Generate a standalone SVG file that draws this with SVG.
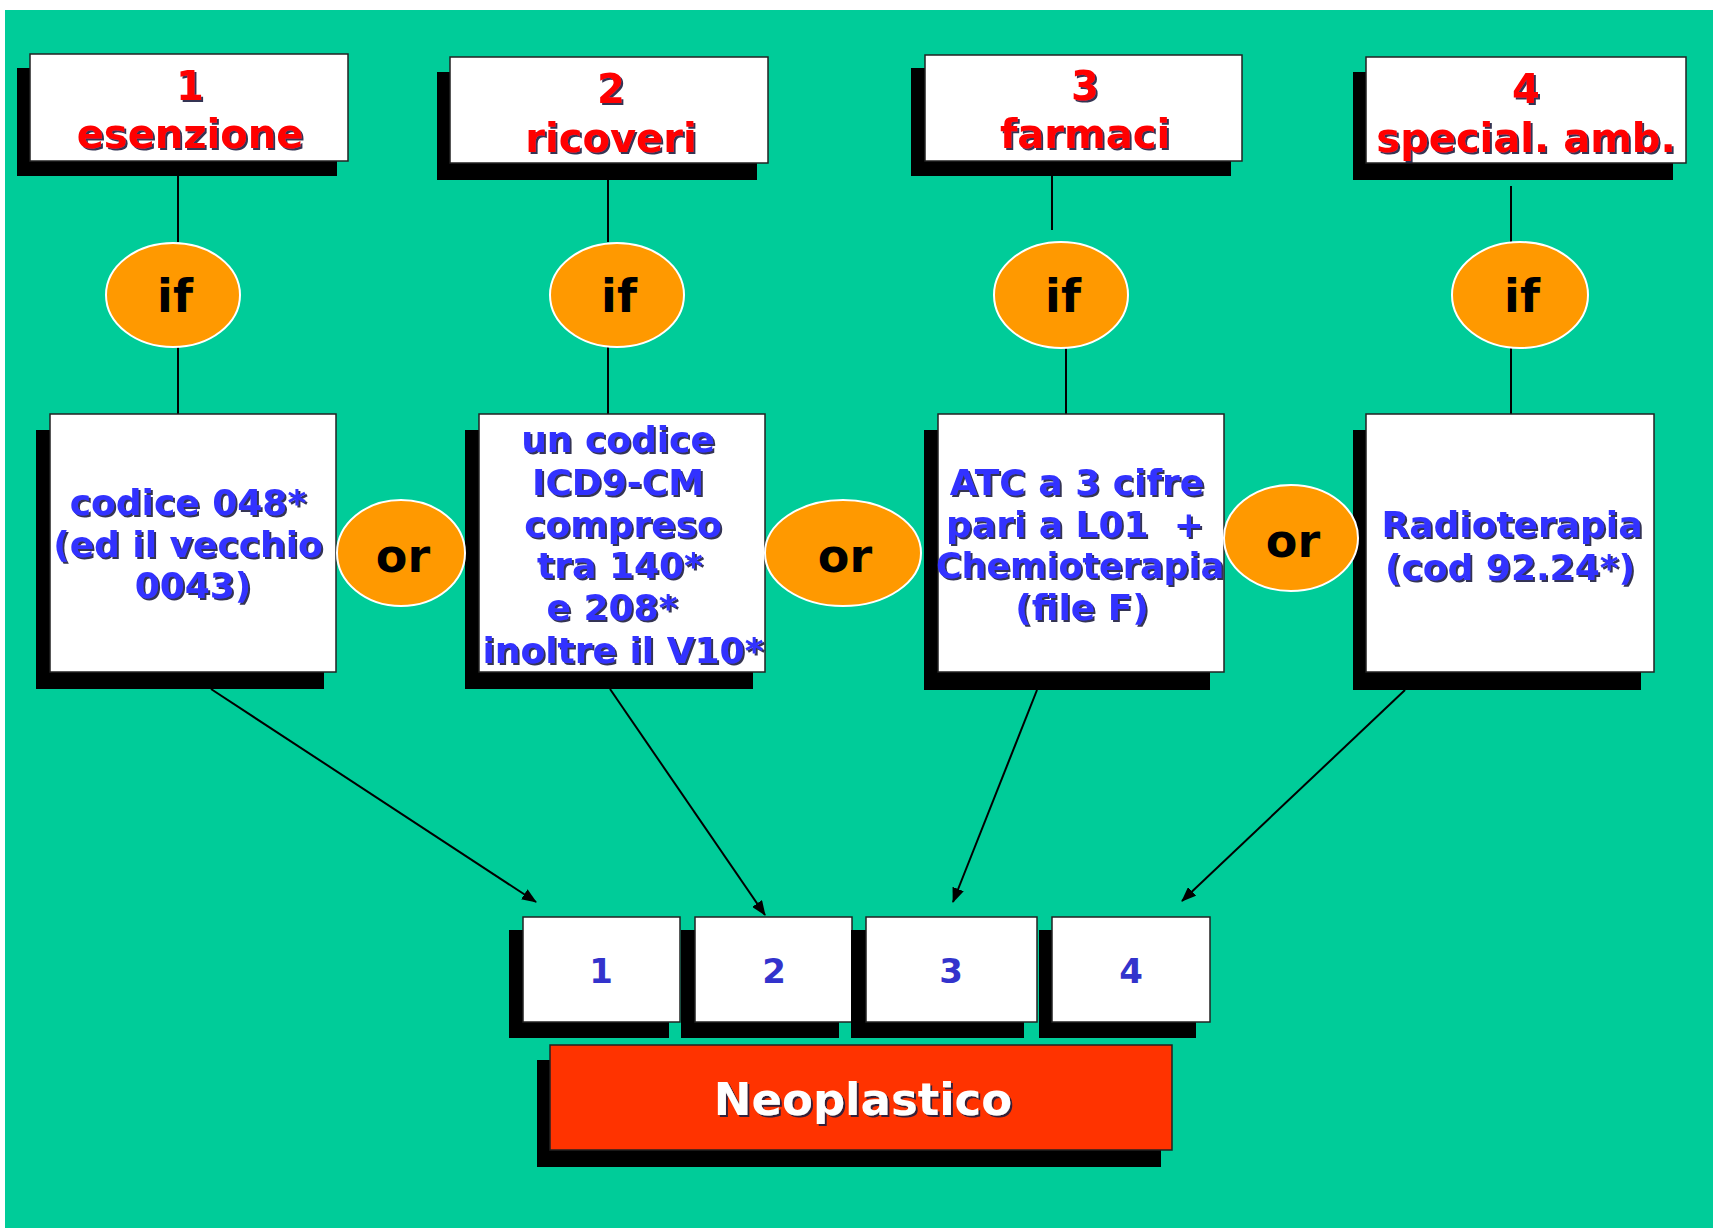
<svg xmlns="http://www.w3.org/2000/svg" width="1713" height="1228" viewBox="0 0 1713 1228">
  <defs>
    <filter id="ts" x="-10%" y="-20%" width="120%" height="140%">
      <feDropShadow dx="2" dy="2" stdDeviation="0.6" flood-color="#1a1a40" flood-opacity="0.9"/>
    </filter>
    <marker id="arr" viewBox="0 0 15 12" refX="14" refY="6" markerWidth="15" markerHeight="12" markerUnits="userSpaceOnUse" orient="auto">
      <path d="M0,0 L15,6 L0,12 z" fill="#000"/>
    </marker>
  </defs>
  <style>
    .shadow { fill: #000; }
    .box { fill: #fff; stroke: #222; stroke-width: 1.5; }
    .red { fill: #ff3300; stroke: #222; stroke-width: 1.5; }
    .oval { fill: #ff9900; stroke: #fff; stroke-width: 2; }
    .head { font-family: "DejaVu Sans", Verdana, sans-serif; font-weight: bold; font-size: 40px; fill: #ff0000; text-anchor: middle; filter: url(#ts); }
    .cond { font-family: "DejaVu Sans", Verdana, sans-serif; font-weight: bold; font-size: 36px; fill: #3333ff; text-anchor: middle; filter: url(#ts); }
    .num { font-family: "DejaVu Sans", Verdana, sans-serif; font-weight: bold; font-size: 34px; fill: #3333cc; text-anchor: middle; }
    .op { font-family: "DejaVu Sans", Verdana, sans-serif; font-weight: bold; font-size: 46px; fill: #000; text-anchor: middle; }
    .big { font-family: "DejaVu Sans", Verdana, sans-serif; font-weight: bold; font-size: 45px; fill: #fff; text-anchor: middle; filter: url(#ts); }
    .link { stroke: #000; stroke-width: 2; fill: none; }
    .arrow { stroke: #000; stroke-width: 2; fill: none; marker-end: url(#arr); }
  </style>

  <!-- slide background -->
  <rect x="5" y="10" width="1708" height="1218" fill="#00cc99"/>

  <!-- connectors -->
  <g id="connectors">
    <line class="link" x1="178" y1="176" x2="178" y2="242"/>
    <line class="link" x1="178" y1="346" x2="178" y2="414"/>
    <line class="link" x1="608" y1="180" x2="608" y2="242"/>
    <line class="link" x1="608" y1="346" x2="608" y2="414"/>
    <line class="link" x1="1052" y1="176" x2="1052" y2="230"/>
    <line class="link" x1="1066" y1="346" x2="1066" y2="414"/>
    <line class="link" x1="1511" y1="186" x2="1511" y2="242"/>
    <line class="link" x1="1511" y1="346" x2="1511" y2="414"/>
    <line class="arrow" x1="211" y1="689" x2="536" y2="902"/>
    <line class="arrow" x1="610" y1="689" x2="765" y2="915"/>
    <line class="arrow" x1="1037" y1="690" x2="953" y2="902"/>
    <line class="arrow" x1="1405" y1="690" x2="1182" y2="901"/>
  </g>

  <!-- source headers -->
  <g id="src1">
    <rect class="shadow" x="17" y="68" width="320" height="108"/>
    <rect class="box" x="30" y="54" width="318" height="107"/>
    <text class="head" x="190" y="100">1</text>
    <text class="head" x="190" y="148">esenzione</text>
  </g>
  <g id="src2">
    <rect class="shadow" x="437" y="72" width="320" height="108"/>
    <rect class="box" x="450" y="57" width="318" height="106"/>
    <text class="head" x="611" y="103">2</text>
    <text class="head" x="611" y="152">ricoveri</text>
  </g>
  <g id="src3">
    <rect class="shadow" x="911" y="68" width="320" height="108"/>
    <rect class="box" x="925" y="55" width="317" height="106"/>
    <text class="head" x="1085" y="100">3</text>
    <text class="head" x="1085" y="148">farmaci</text>
  </g>
  <g id="src4">
    <rect class="shadow" x="1353" y="72" width="320" height="108"/>
    <rect class="box" x="1366" y="57" width="320" height="106"/>
    <text class="head" x="1526" y="103">4</text>
    <text class="head" x="1526" y="152">special. amb.</text>
  </g>

  <!-- "if" gates -->
  <g id="if1"><ellipse class="oval" cx="173" cy="295" rx="67" ry="52"/><text class="op" x="175" y="312">if</text></g>
  <g id="if2"><ellipse class="oval" cx="617" cy="295" rx="67" ry="52"/><text class="op" x="619" y="312">if</text></g>
  <g id="if3"><ellipse class="oval" cx="1061" cy="295" rx="67" ry="53"/><text class="op" x="1063" y="312">if</text></g>
  <g id="if4"><ellipse class="oval" cx="1520" cy="295" rx="68" ry="53"/><text class="op" x="1522" y="312">if</text></g>

  <!-- conditions -->
  <g id="cond1">
    <rect class="shadow" x="36" y="430" width="288" height="259"/>
    <rect class="box" x="50" y="414" width="286" height="258"/>
    <text class="cond" x="188" y="515">codice 048*</text>
    <text class="cond" x="188" y="557">(ed il vecchio</text>
    <text class="cond" x="193" y="598">0043)</text>
  </g>
  <g id="cond2">
    <rect class="shadow" x="465" y="430" width="288" height="259"/>
    <rect class="box" x="479" y="414" width="286" height="258"/>
    <text class="cond" x="618" y="452">un codice</text>
    <text class="cond" x="618" y="495">ICD9-CM</text>
    <text class="cond" x="623" y="537">compreso</text>
    <text class="cond" x="620" y="578">tra 140*</text>
    <text class="cond" x="612" y="620">e 208*</text>
    <text class="cond" x="623" y="663">inoltre il V10*</text>
  </g>
  <g id="cond3">
    <rect class="shadow" x="924" y="430" width="286" height="260"/>
    <rect class="box" x="938" y="414" width="286" height="258"/>
    <text class="cond" x="1077" y="495">ATC a 3 cifre</text>
    <text class="cond" x="1075" y="537" xml:space="preserve">pari a L01  +</text>
    <text class="cond" x="1080" y="578" textLength="288" lengthAdjust="spacingAndGlyphs">Chemioterapia</text>
    <text class="cond" x="1082" y="620">(file F)</text>
  </g>
  <g id="cond4">
    <rect class="shadow" x="1353" y="430" width="288" height="260"/>
    <rect class="box" x="1366" y="414" width="288" height="258"/>
    <text class="cond" x="1512" y="537">Radioterapia</text>
    <text class="cond" x="1510" y="580">(cod 92.24*)</text>
  </g>

  <!-- "or" gates -->
  <g id="or1"><ellipse class="oval" cx="401" cy="553" rx="64" ry="53"/><text class="op" x="403" y="572">or</text></g>
  <g id="or2"><ellipse class="oval" cx="843" cy="553" rx="78" ry="53"/><text class="op" x="845" y="572">or</text></g>
  <g id="or3"><ellipse class="oval" cx="1291" cy="538" rx="67" ry="53"/><text class="op" x="1293" y="557">or</text></g>

  <!-- result slots -->
  <g id="slot1">
    <rect class="shadow" x="509" y="930" width="160" height="108"/>
    <rect class="box" x="523" y="917" width="157" height="105"/>
    <text class="num" x="601" y="983">1</text>
  </g>
  <g id="slot2">
    <rect class="shadow" x="681" y="930" width="158" height="108"/>
    <rect class="box" x="695" y="917" width="157" height="105"/>
    <text class="num" x="774" y="983">2</text>
  </g>
  <g id="slot3">
    <rect class="shadow" x="851" y="930" width="173" height="108"/>
    <rect class="box" x="866" y="917" width="171" height="105"/>
    <text class="num" x="951" y="983">3</text>
  </g>
  <g id="slot4">
    <rect class="shadow" x="1039" y="930" width="157" height="108"/>
    <rect class="box" x="1052" y="917" width="158" height="105"/>
    <text class="num" x="1131" y="983">4</text>
  </g>

  <!-- outcome -->
  <g id="neoplastico">
    <rect class="shadow" x="537" y="1060" width="624" height="107"/>
    <rect class="red" x="550" y="1045" width="622" height="105"/>
    <text class="big" x="863" y="1115">Neoplastico</text>
  </g>
</svg>
